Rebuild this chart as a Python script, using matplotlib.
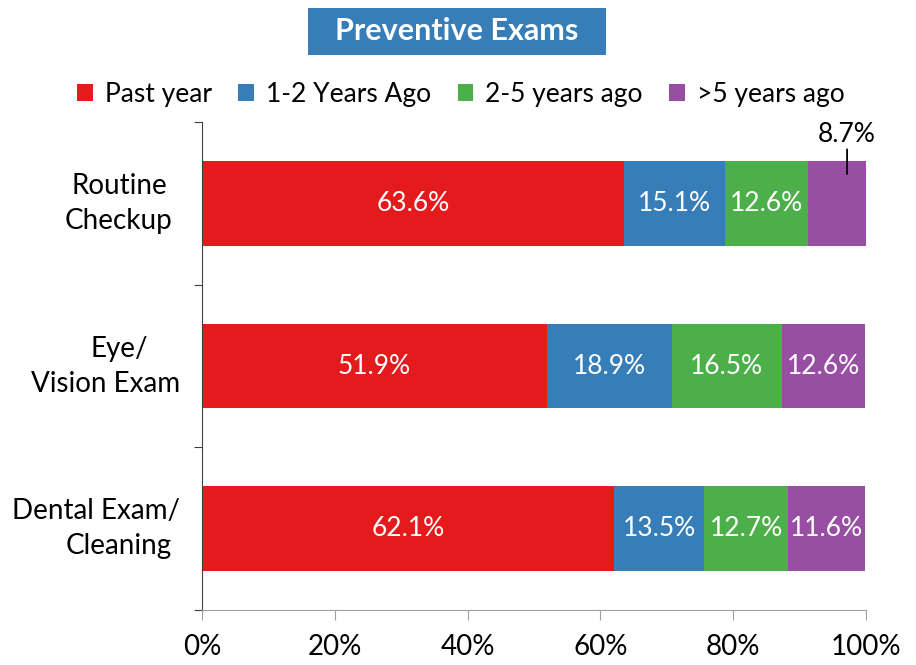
import matplotlib.pyplot as plt
import matplotlib.transforms as mtransforms
from matplotlib.patches import Rectangle
import numpy as np

# data
categories = ['Routine\nCheckup', 'Eye/\nVision Exam', 'Dental Exam/\nCleaning']
series_names = ['Past year', '1-2 Years Ago', '2-5 years ago', '>5 years ago']
past_year = [63.6, 51.9, 62.1]
one_two = [15.1, 18.9, 13.5]
two_five = [12.6, 16.5, 12.7]
over_five = [8.7, 12.6, 11.6]
colors = ['#E41A1C', '#377EB8', '#4DAF4A', '#984EA3']

plt.rcParams['font.family'] = ['Lato', 'DejaVu Sans']

fig = plt.figure(figsize=(9.16, 6.65), dpi=100)
ax = fig.add_axes([0.2205, 0.0827, 0.7249, 0.7338])

y = np.arange(len(categories))
left = np.zeros(len(categories))
for vals, name, c in zip([past_year, one_two, two_five, over_five], series_names, colors):
    ax.barh(y, vals, left=left, height=0.52, color=c, label=name)
    for i, v in enumerate(vals):
        if v < 10:
            # small segment: label above with a leader line
            xc = left[i] + v / 2 + 1.5
            ax.annotate(f'{v}%', xy=(xc, y[i] - 0.18), xytext=(xc, y[i] - 0.38),
                        ha='center', va='baseline', fontsize=19, color='black',
                        arrowprops=dict(arrowstyle='-', color='black', lw=1.3,
                                        shrinkA=0, shrinkB=0))
        else:
            ax.text(left[i] + v / 2, y[i], f'{v}%', ha='center', va='center',
                    fontsize=19, color='white')
    left += np.array(vals)

ax.set_xlim(0, 100)
ax.set_ylim(2.5, -0.5)
ax.set_xticks(np.arange(0, 101, 20))
ax.set_xticklabels([f'{t}%' for t in range(0, 101, 20)], fontsize=20)
ax.set_yticks([-0.5, 0.5, 1.5, 2.5])
ax.set_yticklabels([])
ax.tick_params(axis='y', length=6, color='#404040')
ax.tick_params(axis='x', length=7, color='#a0a0a0', pad=10)

# category labels: each line centred left of the axis, kept clear of it
trans = mtransforms.blended_transform_factory(ax.transAxes, ax.transData)
renderer = fig.canvas.get_renderer()
ax_w = ax.get_window_extent(renderer).width
centre = -0.125
max_right = -0.033
for i, cat in enumerate(categories):
    lines = cat.split('\n')
    for j, line in enumerate(lines):
        yy = y[i] + (j - (len(lines) - 1) / 2) * 0.215
        t = ax.text(centre, yy, line, transform=trans, ha='center', va='center',
                    fontsize=20)
        half = t.get_window_extent(renderer).width / 2 / ax_w
        if centre + half > max_right:
            t.set_x(max_right - half)

for s in ['top', 'right']:
    ax.spines[s].set_visible(False)
ax.spines['left'].set_color('#404040')
ax.spines['bottom'].set_color('#a0a0a0')

ax.legend(loc='center', bbox_to_anchor=(0.39, 1.057), ncol=4, frameon=False,
          fontsize=19, handlelength=0.6, handleheight=0.6, handletextpad=0.45,
          columnspacing=1.0)

# title in a blue box
fig.patches.append(Rectangle((308 / 916, 1 - 55 / 665), 298 / 916, 47 / 665,
                             transform=fig.transFigure, facecolor='#377EB8',
                             edgecolor='none'))
fig.text(457 / 916, 1 - 31 / 665, 'Preventive Exams', ha='center', va='center',
         fontsize=22, fontweight='bold', color='white')

fig.savefig('out.png', dpi=100)
